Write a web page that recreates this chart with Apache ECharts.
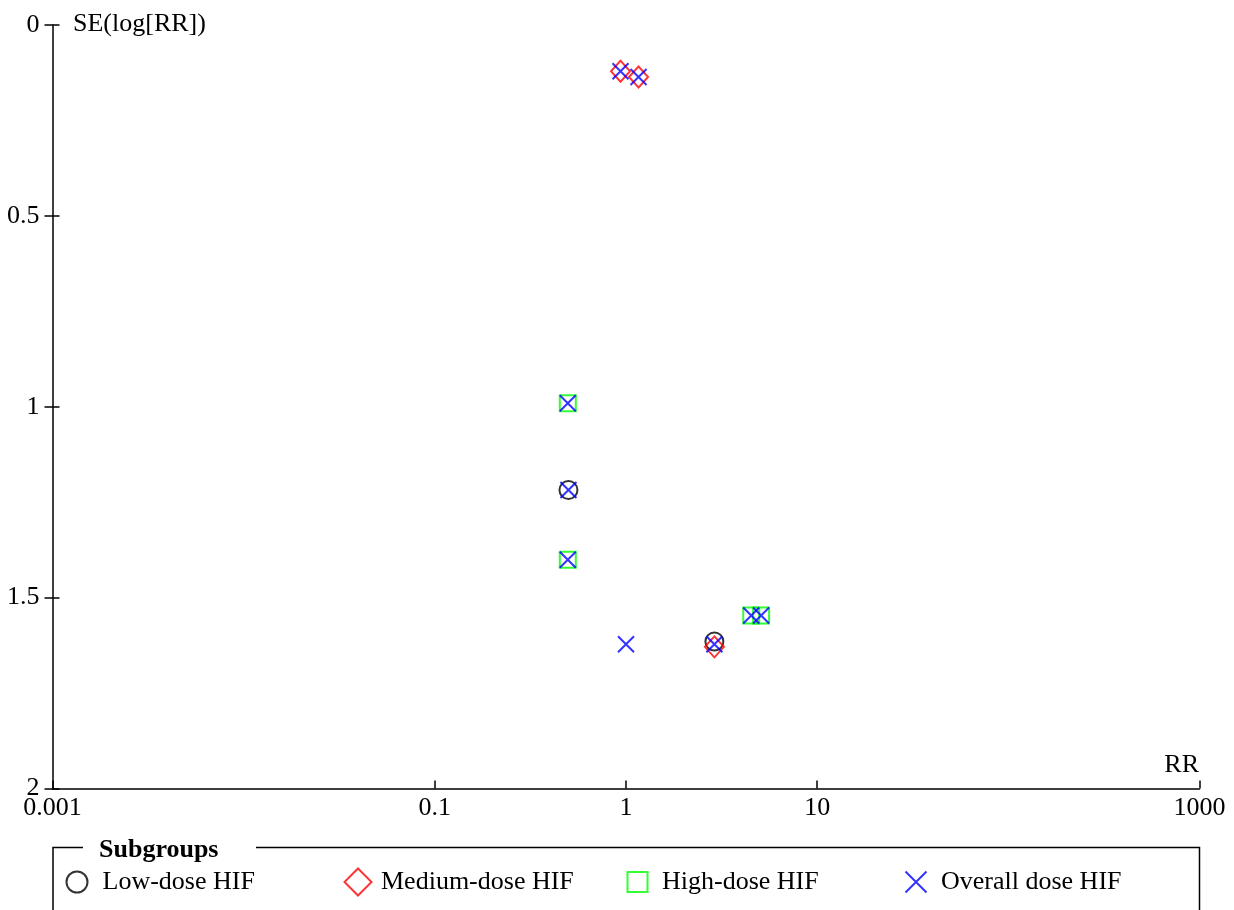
<!DOCTYPE html>
<html>
<head>
<meta charset="utf-8">
<script src="https://cdn.jsdelivr.net/npm/echarts@6/dist/echarts.min.js"></script>
<style>
html,body{margin:0;padding:0;background:#fff;}
#chart{width:1234px;height:910px;}
</style>
</head>
<body>
<div id="chart"></div>
<script>
// ---- data (RR, SE(log[RR])) ----
const seriesNames = ['Low-dose HIF', 'Medium-dose HIF', 'High-dose HIF', 'Overall dose HIF'];
const lowDose = [[0.50, 1.218], [2.90, 1.615]];
const mediumDose = [[0.936, 0.121], [1.163, 0.136], [2.90, 1.629]];
const highDose = [[0.496, 0.991], [0.496, 1.401], [4.52, 1.547], [5.09, 1.547]];
const overallDose = [[0.936, 0.121], [1.163, 0.136], [0.496, 0.991], [0.50, 1.218], [0.496, 1.401], [1.0, 1.622], [2.90, 1.622], [4.52, 1.547], [5.09, 1.547]];
const xTickValues = [0.001, 0.1, 1, 10, 1000];
const xTickLabels = ['0.001', '0.1', '1', '10', '1000'];
const yTickLabels = ['0', '0.5', '1', '1.5', '2'];
const xAxisTitle = 'RR';
const yAxisTitle = 'SE(log[RR])';
const legendTitle = 'Subgroups';

const FONT = '"Liberation Serif", "Times New Roman", serif';
const chart = echarts.init(document.getElementById('chart'), null, {renderer: 'canvas'});

const gridRect = {left: 52.5, right: 34.5, top: 25, bottom: 121.5};
const hollow = 'rgba(0,0,0,0)';
const xPath = 'path://M0,0L10,10M10,0L0,10';
const MW = 2;

function labelFor(v) {
  for (let i = 0; i < xTickValues.length; i++) {
    if (Math.abs(Math.log10(v) - Math.log10(xTickValues[i])) < 1e-6) return xTickLabels[i];
  }
  return '';
}

const option = {
  animation: false,
  backgroundColor: '#fff',
  grid: [Object.assign({}, gridRect), Object.assign({}, gridRect)],
  xAxis: [{
    type: 'log', logBase: 10, min: 0.001, max: 1000, gridIndex: 0, position: 'bottom',
    axisLine: {show: true, onZero: false, lineStyle: {color: '#000', width: 1.5}},
    axisTick: {show: true, inside: true, length: 8, lineStyle: {color: '#000', width: 1.5}, customValues: xTickValues},
    axisLabel: {show: true, margin: 7, color: '#000', fontFamily: FONT, fontSize: 26,
      customValues: xTickValues, formatter: labelFor},
    splitLine: {show: false}, minorTick: {show: false}
  }, {
    type: 'value', gridIndex: 1, min: 0, max: 1, show: false
  }],
  yAxis: [{
    type: 'value', inverse: true, min: 0, max: 2, interval: 0.5, gridIndex: 0, position: 'left',
    axisLine: {show: true, onZero: false, lineStyle: {color: '#000', width: 1.5}},
    axisTick: {show: true, inside: false, length: 8, lineStyle: {color: '#000', width: 1.5}},
    axisLabel: {show: true, margin: 13, color: '#000', fontFamily: FONT, fontSize: 26,
      formatter: function (v) { return yTickLabels[Math.round(v / 0.5)]; }},
    splitLine: {show: false}
  }, {
    type: 'value', inverse: true, min: 0, max: 2, interval: 0.5, gridIndex: 1, position: 'left',
    axisLine: {show: false, onZero: false},
    axisTick: {show: true, inside: true, length: 7, lineStyle: {color: '#000', width: 1.5}},
    axisLabel: {show: false},
    splitLine: {show: false}
  }],
  legend: [
    {data: [seriesNames[0]], left: 65.5, itemWidth: 21, itemHeight: 21, pad: 10},
    {data: [seriesNames[1]], left: 343.5, itemWidth: 27, itemHeight: 27, pad: 4.5},
    {data: [seriesNames[2]], left: 626.5, itemWidth: 20, itemHeight: 20, pad: 9.5},
    {data: [seriesNames[3]], left: 904.5, itemWidth: 21, itemHeight: 23, pad: 9.5}
  ].map(function (l) {
    const pad = l.pad;
    delete l.pad;
    return Object.assign({
      orient: 'horizontal', padding: 0, selectedMode: false, top: 867,
      textStyle: {color: '#000', fontFamily: FONT, fontSize: 26, lineHeight: 30, padding: [0, 0, 0, pad]},
      itemStyle: {borderWidth: MW}
    }, l);
  }),
  series: [{
    name: seriesNames[0], type: 'scatter', data: lowDose, symbol: 'circle', symbolSize: 18,
    itemStyle: {color: hollow, borderColor: '#000', borderWidth: MW}, z: 2
  }, {
    name: seriesNames[1], type: 'scatter', data: mediumDose, symbol: 'diamond', symbolSize: [19, 21],
    itemStyle: {color: hollow, borderColor: '#ff0000', borderWidth: MW}, z: 3
  }, {
    name: seriesNames[2], type: 'scatter', data: highDose, symbol: 'rect', symbolSize: 16,
    itemStyle: {color: hollow, borderColor: '#00ff00', borderWidth: MW}, z: 4
  }, {
    name: seriesNames[3], type: 'scatter', data: overallDose, symbol: xPath, symbolSize: 16,
    itemStyle: {color: hollow, borderColor: '#0000ff', borderWidth: MW}, z: 5
  }],
  graphic: [
    {type: 'text', left: 73, top: 11, style: {text: yAxisTitle, fill: '#000', font: '26px ' + FONT}},
    {type: 'text', right: 35, top: 752, style: {text: xAxisTitle, fill: '#000', font: '26px ' + FONT}},
    {type: 'text', left: 99, top: 837, style: {text: legendTitle, fill: '#000', font: 'bold 26px ' + FONT}},
    {type: 'polyline', shape: {points: [[83, 847.5], [53, 847.5], [53, 912]]}, style: {stroke: '#000', lineWidth: 1.5, fill: null}},
    {type: 'polyline', shape: {points: [[256, 847.5], [1199.5, 847.5], [1199.5, 912]]}, style: {stroke: '#000', lineWidth: 1.5, fill: null}}
  ]
};
chart.setOption(option);
</script>
</body>
</html>
